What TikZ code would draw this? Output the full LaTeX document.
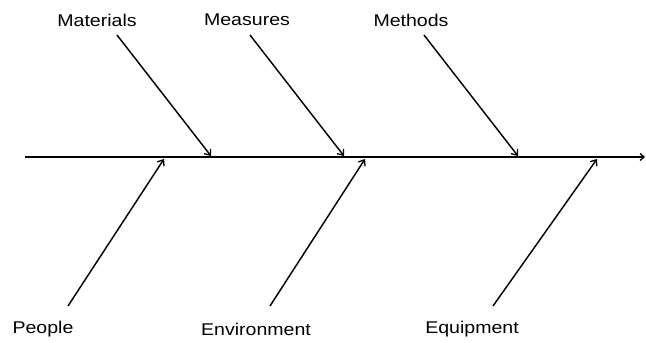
\documentclass[tikz,border=0pt]{standalone}
\usepackage{fontspec}
\setmainfont{Liberation Sans}[FakeStretch=1.15]
\usetikzlibrary{arrows.meta}
\begin{document}
\begin{tikzpicture}[x=1pt,y=-1pt,
  lbl/.style={inner sep=0pt,font=\fontsize{17}{20}\selectfont},
  spine/.style={line width=2pt,-{Straight Barb[length=4pt,width=7pt,line width=1.3pt]}},
  bone/.style={line width=1.45pt,-{Straight Barb[length=5pt,width=8pt,line width=1.3pt]}}]
\useasboundingbox (0,0) rectangle (646,343);
% spine
\coordinate (s0) at (25,157);
\coordinate (s1) at (645,157);
\draw[spine] (s0) -- (s1);
% top labels
\node[lbl] (mat) at (97,20) {Materials};
\node[lbl] (mea) at (247,20) {Measures};
\node[lbl] (met) at (411,20) {Methods};
% bottom labels
\node[lbl] (peo) at (43,329) {People};
\node[lbl] (env) at (256,329) {Environment};
\node[lbl] (equ) at (472,329) {Equipment};
% bone endpoints
\coordinate (mat0) at (117,35);  \coordinate (mat1) at (211,156);
\coordinate (mea0) at (250,35);  \coordinate (mea1) at (344,156);
\coordinate (met0) at (424,35);  \coordinate (met1) at (518,156);
\coordinate (peo0) at (68,306);  \coordinate (peo1) at (164,159);
\coordinate (env0) at (270,306); \coordinate (env1) at (365,159);
\coordinate (equ0) at (493,306); \coordinate (equ1) at (597,159);
\draw[bone] (mat0) -- (mat1);
\draw[bone] (mea0) -- (mea1);
\draw[bone] (met0) -- (met1);
\draw[bone] (peo0) -- (peo1);
\draw[bone] (env0) -- (env1);
\draw[bone] (equ0) -- (equ1);
\end{tikzpicture}
\end{document}
